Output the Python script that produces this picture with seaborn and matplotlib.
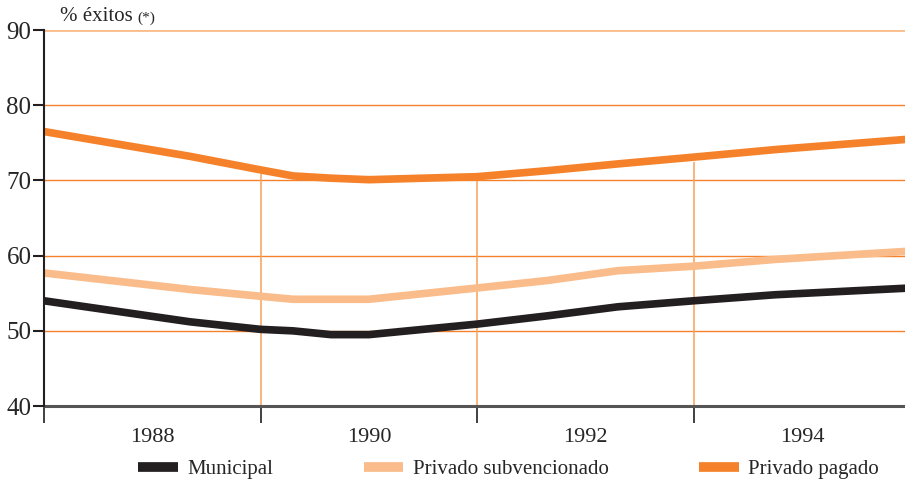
import numpy as np
import pandas as pd
import seaborn as sns
import matplotlib.pyplot as plt
from matplotlib.lines import Line2D

# data
years = [1987, 1988.35, 1989, 1989.3, 1989.65, 1990, 1991, 1991.65, 1992.3, 1993, 1993.75, 1995]
municipal = [54.0, 51.2, 50.2, 50.0, 49.5, 49.5, 50.9, 52.0, 53.2, 54.0, 54.8, 55.7]
subvencionado = [57.7, 55.5, 54.6, 54.2, 54.2, 54.2, 55.7, 56.7, 58.0, 58.6, 59.5, 60.6]
pagado = [76.5, 73.2, 71.4, 70.6, 70.3, 70.1, 70.5, 71.3, 72.2, 73.1, 74.1, 75.5]
names = ["Municipal", "Privado subvencionado", "Privado pagado"]
colors = ["#231F20", "#F9BC8A", "#F5822A"]
year_labels = [1988, 1990, 1992, 1994]
year_bounds = [1987, 1989, 1991, 1993]

df = pd.DataFrame({"year": years * 3,
                   "valor": municipal + subvencionado + pagado,
                   "serie": [n for n in names for _ in years]})

sns.set_style("white")
plt.rcParams["font.family"] = ["Liberation Serif", "DejaVu Serif"]

fig = plt.figure(figsize=(9.05, 4.84), dpi=100)
ax = fig.add_axes([0.0486, 0.161, 0.9514, 0.777])

# horizontal grid
for v in [50, 60, 70, 80]:
    ax.axhline(v, color="#F5822A", lw=1, zorder=1)
ax.axhline(90, color="#F9BC8A", lw=2, zorder=1)

# vertical lines up to the top series
tops = np.interp(year_bounds[1:], years, pagado)
ax.vlines(year_bounds[1:], 40, tops - 0.6, color="#F7A868", lw=1.2, zorder=1)

sns.lineplot(data=df, x="year", y="valor", hue="serie", palette=colors,
             hue_order=names, lw=5.5, legend=False, ax=ax, zorder=3)
for l in ax.get_lines()[-3:]:
    l.set_solid_capstyle("butt")

ax.set_xlim(1987, 1994.95)
ax.set_ylim(40, 90)
ax.set_yticks([40, 50, 60, 70, 80, 90])
ax.set_xticks(year_bounds)
ax.set_xticklabels([])
ax.set_xticks(year_labels, minor=True)
ax.set_xticklabels([str(y) for y in year_labels], minor=True)
ax.tick_params(axis="x", which="major", length=12, width=1.2, color="#231F20", direction="out", bottom=True)
ax.tick_params(axis="x", which="minor", length=0, pad=16, labelsize=16, bottom=True)
ax.tick_params(axis="y", length=8, width=1.5, color="#231F20", labelsize=18, left=True, pad=1)
ax.set_xlabel("")
ax.set_ylabel("")

for s in ["top", "right"]:
    ax.spines[s].set_visible(False)
ax.spines["left"].set_color("#231F20")
ax.spines["left"].set_linewidth(1.5)
ax.spines["left"].set_zorder(4)
ax.spines["bottom"].set_color("#555555")
ax.spines["bottom"].set_linewidth(2.2)

fig.text(0.066, 0.965, "% éxitos", fontsize=15, ha="left", va="center")
fig.text(0.152, 0.963, "(*)", fontsize=11, ha="left", va="center")

handles = [Line2D([], [], color=c, lw=7, solid_capstyle="butt") for c in colors]
fig.legend(handles, names, loc="center", bbox_to_anchor=(0.562, 0.03), ncol=3,
           frameon=False, fontsize=15, handlelength=1.9, handletextpad=0.45,
           columnspacing=4.35)

fig.savefig("out.png", dpi=100)
